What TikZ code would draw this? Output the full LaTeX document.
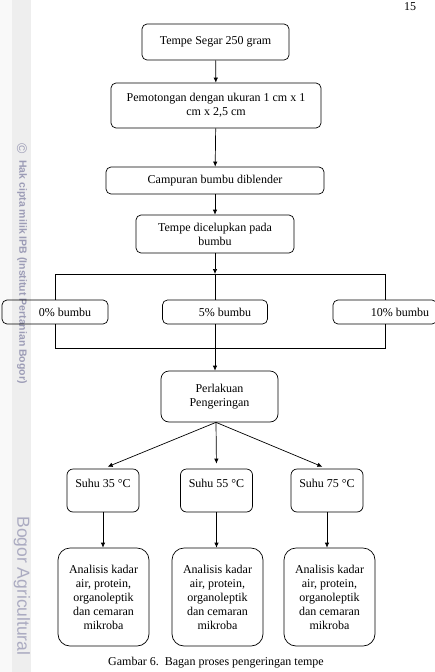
\documentclass[tikz,border=0pt]{standalone}
\usepackage{fontspec}
\setmainfont{Liberation Serif}
\setsansfont{Liberation Sans}
\usetikzlibrary{arrows.meta}
\definecolor{wmgray}{HTML}{9C9CB6}

\begin{document}
\begin{tikzpicture}[x=1pt, y=-1pt, line width=0.7pt,
  every node/.style={font=\fontsize{12}{14}\selectfont},
  kotak/.style={draw, rounded corners=5pt, align=center, inner sep=2pt},
  panah/.style={-{Latex[length=5pt,width=4.5pt]}}]

  \useasboundingbox (0,0) rectangle (434,672);

  %----- strip watermark di kiri -----
  \fill[gray!5]  (0,0)  rectangle (12,672);
  \fill[gray!13] (12,0) rectangle (31,672);
  \node[wmgray, font=\sffamily\fontsize{14}{14}\selectfont, rotate=-90] (cpy) at (22,149) {©};
  \node[wmgray, font=\sffamily\bfseries\fontsize{10.5}{12}\selectfont, rotate=-90,
    anchor=west, inner sep=0pt] (hak) at (22,160) {Hak cipta milik IPB (Institut Pertanian Bogor)};
  \node[wmgray!85, font=\sffamily\fontsize{17.5}{18}\selectfont, rotate=-90,
    anchor=west, inner sep=0pt] (univ) at (22,516) {Bogor Agricultural};

  % nomor halaman
  \node[anchor=base] (hal) at (410,10) {15};

  %----- bagian atas -----
  \node[kotak, minimum width=147pt, minimum height=36pt] (segar) at (215.5,42) {Tempe Segar 250 gram};
  \node[kotak, minimum width=210pt, minimum height=45pt] (potong) at (216,105.5)
    {Pemotongan dengan ukuran 1 cm x 1\\cm x 2,5 cm};
  \node[kotak, minimum width=218pt, minimum height=27pt] (campur) at (215,180.5) {Campuran bumbu diblender};
  \node[kotak, minimum width=158pt, minimum height=38pt] (celup) at (215,234) {Tempe dicelupkan pada\\bumbu};

  \draw[panah] (segar) -- (potong);
  \draw[panah] (potong) -- (campur);
  \draw[panah] (campur) -- (celup);

  %----- perlakuan bumbu -----
  \node[kotak, minimum width=106pt, minimum height=24pt] (p0)  at (55,312)  {\hspace*{20pt}0\% bumbu};
  \node[kotak, minimum width=105pt, minimum height=24pt] (p5)  at (215,312) {\hspace*{20pt}5\% bumbu};
  \node[kotak, minimum width=104pt, minimum height=24pt] (p10) at (385,312) {\hspace*{30pt}10\% bumbu};

  \coordinate (bagi) at (215,274);
  \coordinate (gabung) at (215,348);
  \draw[panah] (celup) -- (bagi);
  \draw (p0.north) -- (p0.north |- bagi) -- (p10.north |- bagi) -- (p10.north);
  \draw (p5.north) -- (bagi);
  \draw (p0.south) -- (p0.south |- gabung) -- (p10.south |- gabung) -- (p10.south);
  \draw (p5.south) -- (gabung);

  %----- pengeringan -----
  \node[kotak, rounded corners=8pt, minimum width=117pt, minimum height=51pt] (kering) at (219.5,396.5)
    {Perlakuan\\Pengeringan};
  \draw[panah] (gabung) -- (gabung |- kering.north);

  %----- cabang suhu (nama, x suhu, x analisis, suhu) -----
  \def\cabang#1#2#3#4{
    \node[kotak, rounded corners=6pt, minimum width=72pt, inner ysep=3pt,
      text height=15pt, text depth=22pt] (s#1) at (#2,490.5) {Suhu #4 °C};
    \node[kotak, rounded corners=12pt, minimum width=91pt, minimum height=98pt] (a#1) at (#3,597)
      {Analisis kadar\\air, protein,\\organoleptik\\dan cemaran\\mikroba};
    \draw[panah] (s#1.south) -- (s#1.south |- a#1.north);
    \draw[panah, shorten >=5pt] ([xshift=-3.5pt]kering.south) -- (s#1.north);
  }
  \cabang{35}{103}{103.5}{35}
  \cabang{55}{216.5}{217.5}{55}
  \cabang{75}{327}{329.5}{75}

  % keterangan gambar
  \node (judul) at (216,663) {Gambar 6.\ \ Bagan proses pengeringan tempe};
\end{tikzpicture}
\end{document}
